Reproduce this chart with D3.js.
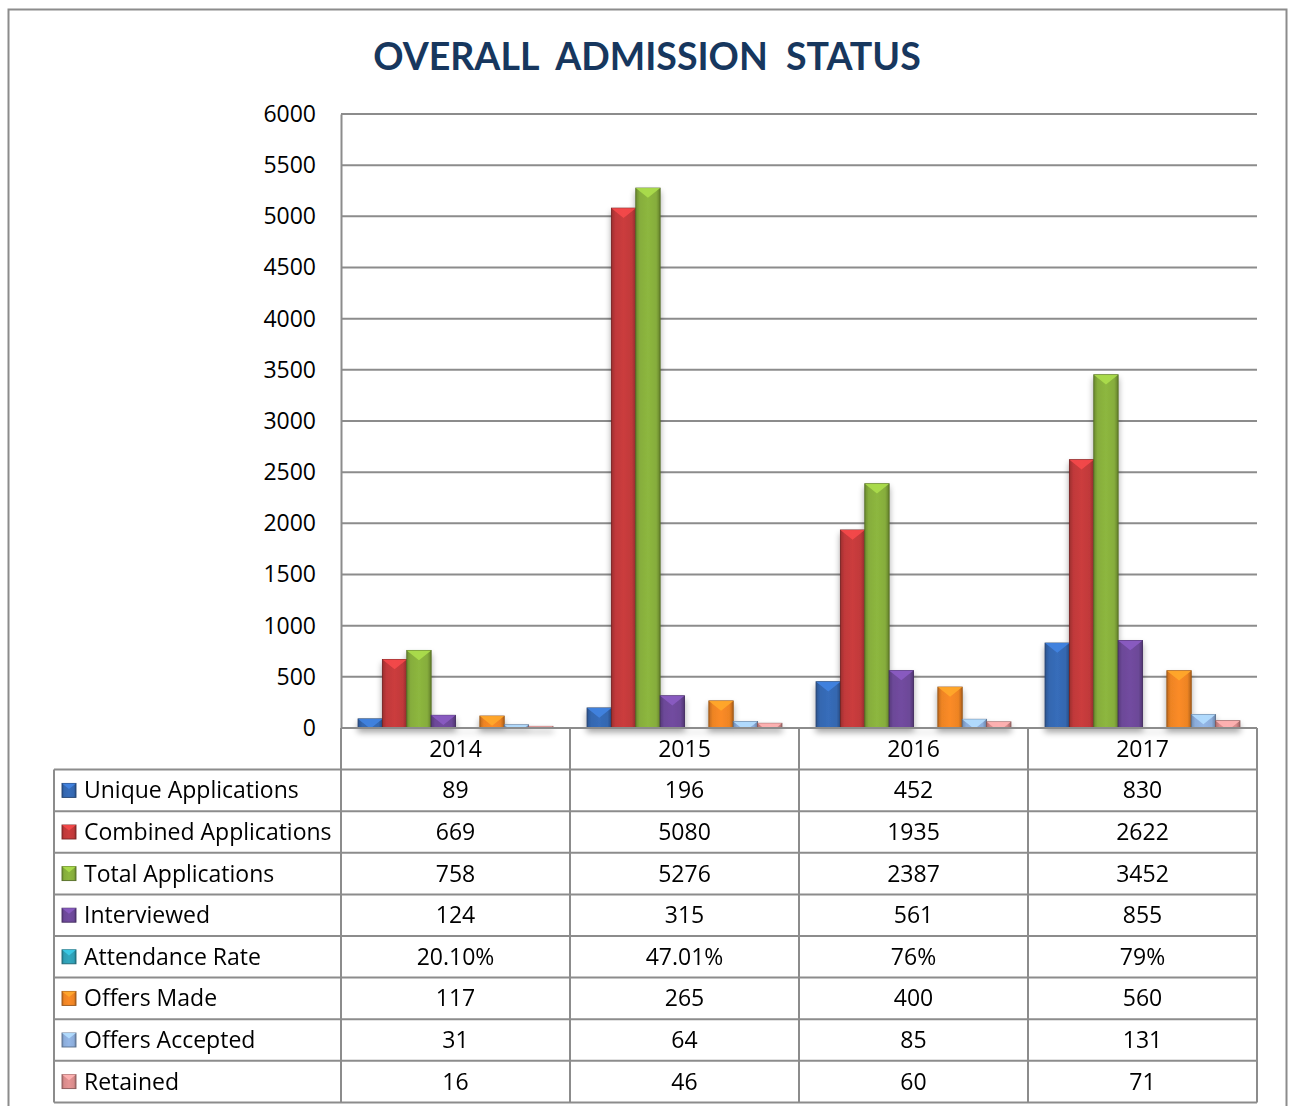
<!DOCTYPE html>
<html lang="en">
<head>
<meta charset="utf-8">
<title>Overall Admission Status</title>
<style>
  body { margin: 0; background: #fff; }
  svg { display: block; font-family: "Open Sans", sans-serif; }
</style>
<script src="https://d3js.org/d3.v7.min.js"></script>
</head>
<body>
<script>
// ---- data ----
let years = ["2014", "2015", "2016", "2017"]
let seriesNames = ["Unique Applications", "Combined Applications", "Total Applications",
  "Interviewed", "Attendance Rate", "Offers Made", "Offers Accepted", "Retained"]
let uniqueApps = [89, 196, 452, 830]
let combinedApps = [669, 5080, 1935, 2622]
let totalApps = [758, 5276, 2387, 3452]
let interviewed = [124, 315, 561, 855]
let attendanceRate = [0.201, 0.4701, 0.76, 0.79]
let attendanceLabels = ["20.10%", "47.01%", "76%", "79%"]
let offersMade = [117, 265, 400, 560]
let offersAccepted = [31, 64, 85, 131]
let retained = [16, 46, 60, 71]
let yTicks = [0, 500, 1000, 1500, 2000, 2500, 3000, 3500, 4000, 4500, 5000, 5500, 6000]

let seriesValues = [uniqueApps, combinedApps, totalApps, interviewed, attendanceRate, offersMade, offersAccepted, retained]
let tableLabels = seriesValues.map((vals, i) => i === 4 ? attendanceLabels : vals.map(String))

let colors = ["#3467b0", "#c0393a", "#86ad3c", "#6c4898", "#2f9fb5", "#ee8424", "#8caddb", "#d98c8c"]

let width = 1292
let height = 1106
let plotLeft = 341
let plotRight = 1257
let plotTop = 114
let plotBottom = 728
let rowH = 41.6
let tableLeft = 54
let fontSize = 23

let svg = d3.select("body").append("svg")
  .attr("width", width)
  .attr("height", height)

let defs = svg.append("defs")

colors.forEach((c, i) => {
  let g = defs.append("linearGradient").attr("id", "grad" + i)
    .attr("x1", "0").attr("x2", "1").attr("y1", "0").attr("y2", "0")
  g.append("stop").attr("offset", "0").attr("stop-color", d3.color(c).darker(0.6))
  g.append("stop").attr("offset", "0.16").attr("stop-color", c)
  g.append("stop").attr("offset", "0.5").attr("stop-color", d3.color(c).brighter(0.15))
  g.append("stop").attr("offset", "0.84").attr("stop-color", c)
  g.append("stop").attr("offset", "1").attr("stop-color", d3.color(c).darker(0.8))
})

let shadow = defs.append("filter").attr("id", "shadow")
  .attr("x", "-20%").attr("y", "-20%").attr("width", "140%").attr("height", "160%")
shadow.append("feGaussianBlur").attr("in", "SourceAlpha").attr("stdDeviation", 3)
shadow.append("feOffset").attr("dx", 0).attr("dy", 4).attr("result", "blur")
shadow.append("feComponentTransfer").append("feFuncA").attr("type", "linear").attr("slope", 0.35)
let merge = shadow.append("feMerge")
merge.append("feMergeNode")
merge.append("feMergeNode").attr("in", "SourceGraphic")

// outer frame
svg.append("rect")
  .attr("x", 8.5).attr("y", 9.5)
  .attr("width", 1278).attr("height", 1110)
  .attr("fill", "none").attr("stroke", "#8c8c8c").attr("stroke-width", 2)

// title
svg.append("text")
  .attr("x", 647).attr("y", 70)
  .attr("text-anchor", "middle")
  .attr("font-size", 37.5).attr("font-weight", "bold")
  .attr("font-family", "Lato, sans-serif")
  .attr("fill", "#17375e")
  .style("white-space", "pre")
  .text("OVERALL  ADMISSION  STATUS")

// scales
let x0 = d3.scaleBand().domain(years).range([plotLeft, plotRight]).padding(0)
let x1 = d3.scaleBand().domain(d3.range(seriesNames.length))
  .range([0, x0.bandwidth()]).paddingInner(0).paddingOuter(0.7)
let y = d3.scaleLinear().domain([0, 6000]).range([plotBottom, plotTop])

// gridlines
svg.append("g")
  .selectAll("line")
  .data(yTicks)
  .join("line")
  .attr("x1", plotLeft).attr("x2", plotRight)
  .attr("y1", d => y(d)).attr("y2", d => y(d))
  .attr("stroke", "#8c8c8c").attr("stroke-width", 2)

// y axis
let yAxis = d3.axisLeft(y).tickValues(yTicks).tickSize(0).tickPadding(25).tickFormat(d3.format("d"))
let yG = svg.append("g").attr("transform", `translate(${plotLeft},0)`).call(yAxis)
yG.select(".domain").attr("stroke", "#8c8c8c").attr("stroke-width", 2)
yG.selectAll("text").attr("font-size", fontSize).attr("fill", "#000").attr("font-family", "'Open Sans', sans-serif")

// bars
let drawBevelBar = (g, bx, by, bw, bh, i) => {
  if (bh <= 0) return
  g.append("rect")
    .attr("x", bx).attr("y", by).attr("width", bw).attr("height", bh)
    .attr("fill", `url(#grad${i})`)
    .attr("stroke", d3.color(colors[i]).darker(1.3)).attr("stroke-width", 0.9)
  let d = bw * 0.4
  let light = d3.color(colors[i]).brighter(0.7)
  if (bh >= d) {
    g.append("polygon")
      .attr("points", `${bx},${by} ${bx + bw},${by} ${bx + bw / 2},${by + d}`)
      .attr("fill", light).attr("opacity", 0.9)
  } else {
    let k = (bw / 2) * (1 - bh / d)
    g.append("polygon")
      .attr("points", `${bx},${by} ${bx + bw},${by} ${bx + bw / 2 + k},${by + bh} ${bx + bw / 2 - k},${by + bh}`)
      .attr("fill", light).attr("opacity", 0.9)
  }
}

let barsG = svg.append("g").attr("filter", "url(#shadow)")
years.forEach((yr, j) => {
  seriesValues.forEach((vals, i) => {
    let v = vals[j]
    let bx = x0(yr) + x1(i)
    let by = y(v)
    let bh = plotBottom - by
    drawBevelBar(barsG, bx, by, x1.bandwidth(), bh, i)
  })
})

// data table
let table = svg.append("g")
let lineColor = "#8c8c8c"
table.append("line").attr("x1", plotLeft).attr("x2", plotRight)
  .attr("y1", plotBottom).attr("y2", plotBottom).attr("stroke", lineColor).attr("stroke-width", 2)
let nRows = seriesNames.length
let tableBottom = plotBottom + rowH * (nRows + 1)
for (let r = 1; r <= nRows + 1; r++) {
  table.append("line").attr("x1", tableLeft).attr("x2", plotRight)
    .attr("y1", plotBottom + rowH * r).attr("y2", plotBottom + rowH * r)
    .attr("stroke", lineColor).attr("stroke-width", 2)
}
table.append("line").attr("x1", tableLeft).attr("x2", tableLeft)
  .attr("y1", plotBottom + rowH).attr("y2", tableBottom).attr("stroke", lineColor).attr("stroke-width", 2)
years.concat(["end"]).forEach((yr) => {
  let lx = yr === "end" ? plotRight : x0(yr)
  table.append("line").attr("x1", lx).attr("x2", lx)
    .attr("y1", plotBottom).attr("y2", tableBottom).attr("stroke", lineColor).attr("stroke-width", 2)
})

// year labels
table.selectAll("text.year")
  .data(years)
  .join("text")
  .attr("class", "year")
  .attr("x", d => x0(d) + x0.bandwidth() / 2)
  .attr("y", plotBottom + rowH / 2 + 8)
  .attr("text-anchor", "middle")
  .attr("font-size", fontSize)
  .text(d => d)

// rows
seriesNames.forEach((name, i) => {
  let rowTop = plotBottom + rowH * (i + 1)
  let ky = rowTop + rowH / 2 - 7
  let kg = table.append("g")
  drawBevelBar(kg, 62, ky, 14, 14, i)
  table.append("text")
    .attr("x", 84).attr("y", rowTop + rowH / 2 + 8)
    .attr("font-size", fontSize)
    .text(name)
  years.forEach((yr, j) => {
    table.append("text")
      .attr("x", x0(yr) + x0.bandwidth() / 2)
      .attr("y", rowTop + rowH / 2 + 8)
      .attr("text-anchor", "middle")
      .attr("font-size", fontSize)
      .text(tableLabels[i][j])
  })
})
</script>
</body>
</html>
